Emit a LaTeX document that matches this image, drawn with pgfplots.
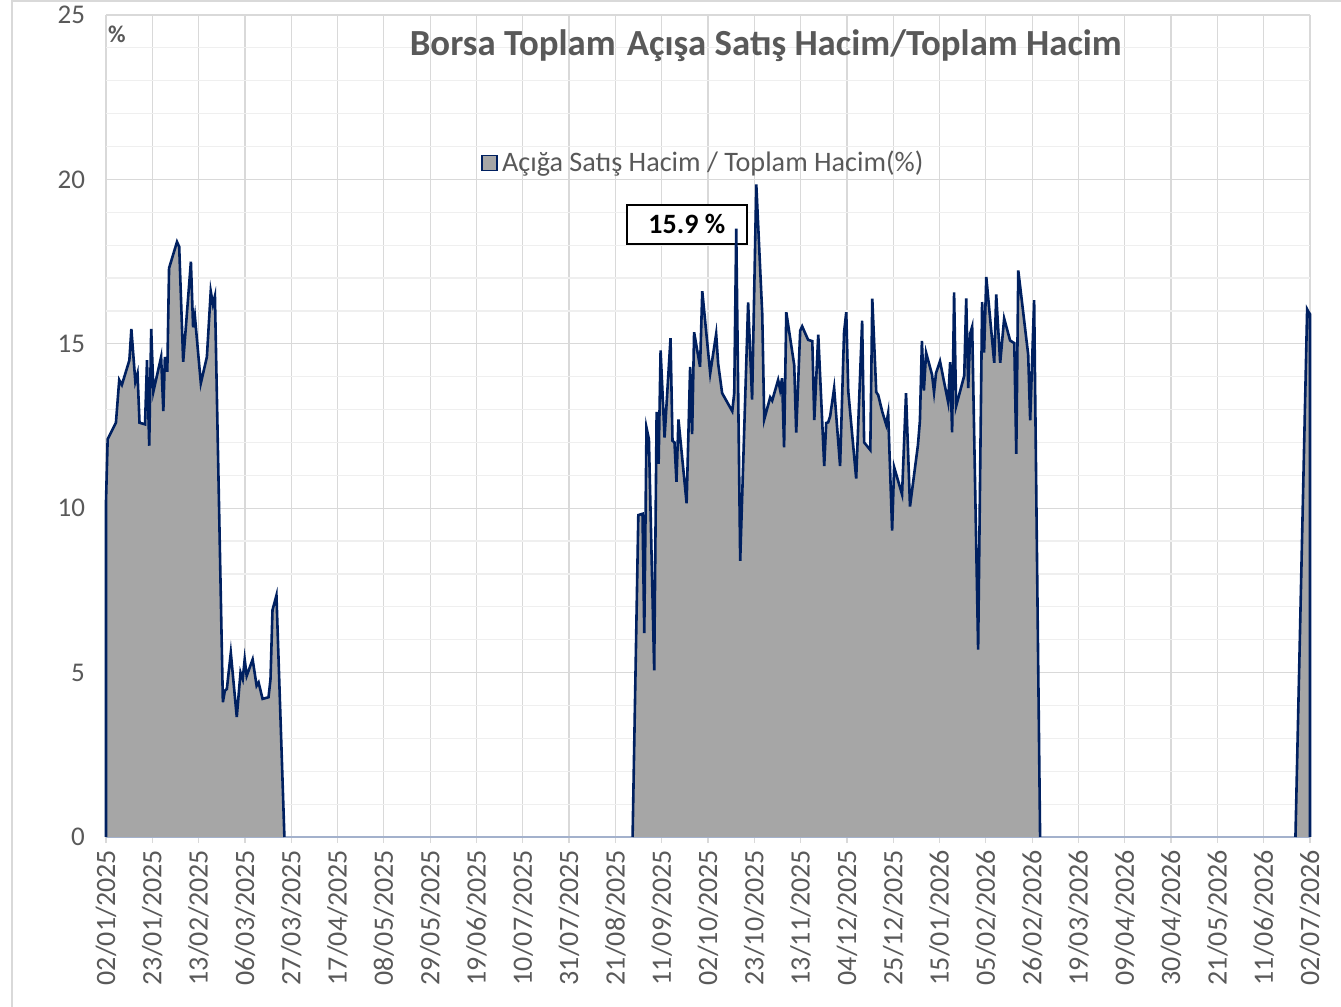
\documentclass[border=0pt]{standalone}
\usepackage{fontspec}
\setmainfont{Carlito}
\usepackage{pgfplots}
\usepackage{pgfplotstable}
\pgfplotsset{compat=1.18}

\definecolor{areagray}{HTML}{A6A6A6}
\definecolor{navy}{HTML}{002060}
\definecolor{txtgray}{HTML}{595959}
\definecolor{gridgray}{HTML}{D9D9D9}
\definecolor{minorgray}{HTML}{EFEFEF}
\definecolor{axisblue}{HTML}{A3B1CC}

% day = days since 02/01/2025, v = short sale volume / total volume (%)
\pgfplotstableread{
d v
0 0
0 10.2
0.75 12.1
4.5 12.6
6 13.9
7.2 13.75
10.6 14.5
11.5 15.45
13.3 13.85
14.3 14.1
15.2 12.6
17.7 12.55
18.6 14.5
19.6 11.9
20.5 15.45
21.5 13.55
25 14.6
26 12.95
26.7 14.6
27.8 14.15
28.6 17.3
32.2 18.1
33.2 17.95
35 14.45
38.5 17.5
39.5 15.5
40.3 15.85
43 13.8
45.75 14.6
47.5 16.6
48.5 16.2
49.4 16.45
53 4.1
53.9 4.45
54.8 4.5
56.6 5.6
59.3 3.65
61 5.0
62 4.8
62.9 5.4
63.8 4.9
66.5 5.4
68.3 4.6
69.2 4.7
71 4.2
73.7 4.25
74.6 4.8
75.5 6.9
77.3 7.35
80.9 0
}\clusterA

\pgfplotstableread{
d v
238.8 0
241.4 9.79
243.3 9.83
244.1 6.2
245.1 12.45
246.2 12.1
248.6 5.07
249.7 12.93
250.6 11.35
251.5 14.8
253.3 12.15
256.0 15.17
256.9 12.05
257.8 12.0
258.7 10.8
259.6 12.7
263.3 10.15
264.9 14.3
265.8 12.25
266.7 15.35
269.4 14.3
270.4 16.6
274.0 14.1
276.7 15.3
277.6 14.4
279.4 13.5
284.0 12.95
284.9 13.5
285.8 18.5
287.6 8.4
291.2 16.26
293.0 13.3
294.9 19.85
297.6 15.9
298.5 12.7
301.2 13.37
302.1 13.27
304.8 13.9
305.7 13.6
306.6 13.95
307.5 11.85
308.5 15.96
312.1 14.35
313.0 12.3
314.8 15.4
315.7 15.53
318.4 15.12
320.3 15.08
321.2 12.68
323.0 15.28
325.7 11.28
326.6 12.59
327.5 12.61
328.4 12.8
330.2 13.65
332.9 11.28
334.7 15.35
335.7 15.96
336.6 13.56
340.2 10.9
342.9 15.7
343.8 12.0
346.6 11.77
347.5 16.37
349.3 13.53
350.2 13.44
352.0 12.94
353.8 12.54
354.7 12.89
356.5 9.32
357.4 11.25
361.0 10.42
362.8 13.5
364.6 10.05
368.2 11.92
369.1 12.66
370.0 15.09
370.9 13.58
371.9 14.73
374.6 14.06
375.5 13.53
376.4 14.11
378.2 14.47
381.9 13.22
382.8 14.44
383.7 12.31
384.6 16.56
385.5 13.1
389.2 14.03
390.1 16.38
391.0 13.65
391.9 15.31
392.8 15.52
395.5 5.7
397.3 16.27
398.2 14.73
399.2 17.03
402.8 14.42
403.7 16.5
405.5 14.42
407.3 15.77
410.0 15.1
411.9 15.02
412.8 11.65
413.7 17.23
418.2 14.67
419.1 12.67
420.9 16.33
423.6 0
}\clusterB

\pgfplotstableread{
d v
539.4 0
544.7 16.05
545.5 15.95
546 15.9
546 0
}\clusterC

\begin{document}
\begin{tikzpicture}
\useasboundingbox (0,0) rectangle (670.5pt,503.5pt);
\draw[gridgray, line width=0.8pt] (6pt,0) -- (6pt,503pt) -- (670.5pt,503pt);
\begin{axis}[
  at={(53pt,85pt)}, anchor=south west,
  scale only axis, width=602pt, height=411pt,
  xmin=0, xmax=546, ymin=0, ymax=25,
  xtick={0,21,...,546},
  xticklabels={02/01/2025,23/01/2025,13/02/2025,06/03/2025,27/03/2025,17/04/2025,08/05/2025,29/05/2025,19/06/2025,10/07/2025,31/07/2025,21/08/2025,11/09/2025,02/10/2025,23/10/2025,13/11/2025,04/12/2025,25/12/2025,15/01/2026,05/02/2026,26/02/2026,19/03/2026,09/04/2026,30/04/2026,21/05/2026,11/06/2026,02/07/2026},
  ytick={0,5,...,25},
  minor y tick num=4,
  xmajorgrids, ymajorgrids, yminorgrids,
  major grid style={gridgray, line width=0.6pt},
  minor grid style={minorgray, line width=0.6pt},
  axis x line*=bottom, axis y line*=left,
  y axis line style={draw=none},
  x axis line style={axisblue, line width=1pt},
  x tick style={gridgray, line width=0.6pt},
  y tick style={draw=none},
  xtick align=outside, major tick length=3pt, minor tick length=0pt,
  x tick label style={rotate=90, anchor=east, font=\fontsize{14}{16}\selectfont, text=txtgray},
  y tick label style={font=\fontsize{13.5}{15}\selectfont, text=txtgray, xshift=-7pt},
  /pgf/number format/assume math mode=true,
  clip=false,
  legend style={draw=none, fill=none, at={(rel axis cs:0.497,0.82)}, anchor=center,
    font=\fontsize{14.1}{16}\selectfont, text=txtgray},
  legend cell align=left,
]
\addplot[fill=areagray, draw=none,
  legend image code/.code={\draw[fill=areagray, draw=navy, line width=0.8pt] (0pt,-3.8pt) rectangle (7.6pt,3.8pt);}]
  table[x=d, y=v] {\clusterA} \closedcycle;
\addlegendentry{Açığa Satış Hacim / Toplam Hacim(\%)}
\addplot[fill=areagray, draw=none, forget plot] table[x=d, y=v] {\clusterB} \closedcycle;
\addplot[fill=areagray, draw=none, forget plot] table[x=d, y=v] {\clusterC} \closedcycle;
% label box sits under the series line, as in the source chart
\node[draw=black, line width=1pt, fill=white, minimum width=60pt, minimum height=19.5pt,
  font=\bfseries\fontsize{14}{16}\selectfont, inner sep=0pt] at (axis cs:263.4,18.64) {15.9 \%};
\addplot[navy, line width=1.3pt, forget plot] table[x=d, y=v] {\clusterA};
\addplot[navy, line width=1.3pt, forget plot] table[x=d, y=v] {\clusterB};
\addplot[navy, line width=1.3pt, forget plot] table[x=d, y=v] {\clusterC};
\node[font=\bfseries\fontsize{18.4}{22}\selectfont, text=txtgray] at (rel axis cs:0.548,0.963)
  {Borsa Toplam\hspace{0.3em}Açışa Satış Hacim/Toplam Hacim};
\node[font=\bfseries\fontsize{12}{14}\selectfont, text=txtgray] at (rel axis cs:0.009,0.976) {\%};
\end{axis}
\end{tikzpicture}
\end{document}
